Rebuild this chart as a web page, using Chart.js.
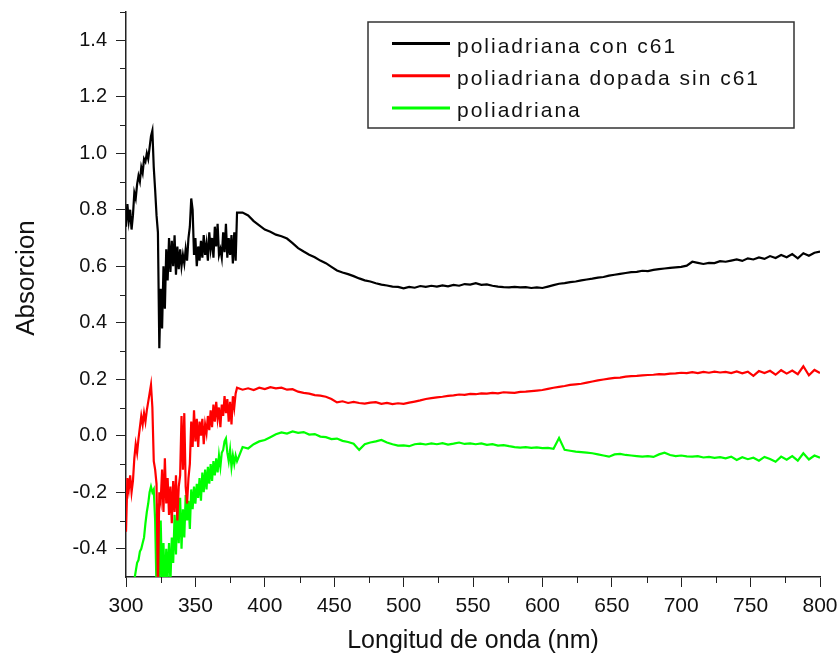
<!DOCTYPE html>
<html lang="es">
<head>
<meta charset="utf-8">
<title>Absorcion</title>
<script src="https://cdn.jsdelivr.net/npm/chart.js@4.4.1/dist/chart.umd.min.js"></script>
<style>
  html, body { margin: 0; padding: 0; background: #fff; }
  #contenedor { width: 840px; height: 656px; }
</style>
</head>
<body>
<div id="contenedor"><canvas id="grafico"></canvas></div>
<script>
// Longitudes de onda (nm): cada 1 nm hasta 380, luego cada 4 nm
var longitudOnda = [
  300, 301, 302, 303, 304, 305, 306, 307, 308, 309,
  310, 311, 312, 313, 314, 315, 316, 317, 318, 319,
  320, 321, 322, 323, 324, 325, 326, 327, 328, 329,
  330, 331, 332, 333, 334, 335, 336, 337, 338, 339,
  340, 341, 342, 343, 344, 345, 346, 347, 348, 349,
  350, 351, 352, 353, 354, 355, 356, 357, 358, 359,
  360, 361, 362, 363, 364, 365, 366, 367, 368, 369,
  370, 371, 372, 373, 374, 375, 376, 377, 378, 379,
  380,
  384, 388, 392, 396, 400, 404, 408, 412, 416, 420,
  424, 428, 432, 436, 440, 444, 448, 452, 456, 460,
  464, 468, 472, 476, 480, 484, 488, 492, 496, 500,
  504, 508, 512, 516, 520, 524, 528, 532, 536, 540,
  544, 548, 552, 556, 560, 564, 568, 572, 576, 580,
  584, 588, 592, 596, 600, 604, 608, 612, 616, 620,
  624, 628, 632, 636, 640, 644, 648, 652, 656, 660,
  664, 668, 672, 676, 680, 684, 688, 692, 696, 700,
  704, 708, 712, 716, 720, 724, 728, 732, 736, 740,
  744, 748, 752, 756, 760, 764, 768, 772, 776, 780,
  784, 788, 792, 796, 800
];

// poliadriana con c61
var absConC61 = [
  0.74, 0.82, 0.76, 0.80, 0.73, 0.78, 0.86, 0.84, 0.89, 0.92,
  0.90, 0.95, 0.93, 0.98, 0.97, 1.00, 0.98, 1.02, 1.06, 1.08,
  0.95, 0.87, 0.78, 0.72, 0.31, 0.52, 0.38, 0.60, 0.45, 0.66,
  0.55, 0.70, 0.58, 0.69, 0.60, 0.71, 0.57, 0.67, 0.59, 0.66,
  0.60, 0.64, 0.61, 0.66, 0.62, 0.70, 0.74, 0.84, 0.80, 0.64,
  0.70, 0.60, 0.67, 0.62, 0.69, 0.63, 0.71, 0.64, 0.68, 0.62,
  0.72, 0.66, 0.70, 0.63, 0.74, 0.67, 0.75, 0.64, 0.66, 0.63,
  0.72, 0.65, 0.75, 0.63, 0.70, 0.64, 0.71, 0.61, 0.72, 0.62,
  0.79,
  0.79, 0.78, 0.76, 0.745, 0.73, 0.722, 0.712, 0.706, 0.698, 0.682,
  0.664, 0.652, 0.641, 0.632, 0.62, 0.611, 0.598, 0.585, 0.578, 0.572,
  0.565, 0.557, 0.550, 0.546, 0.540, 0.535, 0.532, 0.528, 0.527, 0.522,
  0.527, 0.524, 0.530, 0.527, 0.531, 0.528, 0.532, 0.529, 0.534, 0.531,
  0.537, 0.535, 0.540, 0.534, 0.536, 0.531, 0.528, 0.526, 0.525, 0.527,
  0.525, 0.526, 0.523, 0.525, 0.523, 0.528, 0.533, 0.538, 0.540, 0.544,
  0.546, 0.550, 0.553, 0.556, 0.560, 0.562, 0.567, 0.570, 0.573, 0.576,
  0.579, 0.580, 0.584, 0.583, 0.587, 0.590, 0.592, 0.594, 0.596, 0.598,
  0.602, 0.616, 0.612, 0.608, 0.612, 0.611, 0.618, 0.616, 0.620, 0.624,
  0.619, 0.628, 0.624, 0.631, 0.626, 0.636, 0.629, 0.640, 0.632, 0.643,
  0.628, 0.646, 0.637, 0.648, 0.652
];

// poliadriana dopada sin c61
var absDopadaSinC61 = [
  -0.34, -0.15, -0.19, -0.14, -0.20, -0.16, -0.08, -0.03, -0.06, -0.01,
  0.03, 0.07, 0.04, 0.08, 0.05, 0.09, 0.12, 0.15, 0.18, 0.10,
  -0.09, -0.12, -0.17, -0.55, -0.20, -0.23, -0.12, -0.27, -0.08, -0.24,
  -0.15, -0.28, -0.18, -0.31, -0.16, -0.27, -0.14, -0.30, -0.18, -0.14,
  0.07, -0.12, 0.08, -0.18, -0.24, -0.15, -0.10, 0.05, -0.04, 0.09,
  -0.02, 0.06, -0.04, 0.05, 0.00, 0.06, -0.03, 0.04, 0.01, 0.07,
  0.02, 0.09, 0.03, 0.11, 0.05, 0.12, 0.06, 0.10, 0.03, 0.11,
  0.07, 0.14, 0.08, 0.13, 0.05, 0.12, 0.04, 0.14, 0.10, 0.15,
  0.17,
  0.163, 0.168, 0.162, 0.170, 0.165, 0.172, 0.168, 0.170, 0.163, 0.165,
  0.156, 0.152, 0.149, 0.144, 0.142, 0.138, 0.130, 0.118, 0.122, 0.116,
  0.120, 0.116, 0.114, 0.117, 0.119, 0.113, 0.116, 0.112, 0.115, 0.113,
  0.117, 0.121, 0.125, 0.130, 0.133, 0.136, 0.138, 0.141, 0.143, 0.146,
  0.145, 0.148, 0.147, 0.150, 0.149, 0.152, 0.150, 0.154, 0.153, 0.152,
  0.155, 0.156, 0.158, 0.160, 0.162, 0.166, 0.170, 0.173, 0.176, 0.180,
  0.182, 0.184, 0.188, 0.192, 0.196, 0.199, 0.202, 0.205, 0.206, 0.209,
  0.211, 0.212, 0.214, 0.215, 0.216, 0.218, 0.217, 0.220, 0.221, 0.223,
  0.222, 0.225, 0.222, 0.226, 0.223, 0.227, 0.224, 0.226, 0.222, 0.228,
  0.221, 0.227, 0.212, 0.229, 0.222, 0.230, 0.216, 0.232, 0.220, 0.231,
  0.218, 0.246, 0.214, 0.233, 0.222
];

// poliadriana
var absPoliadriana = [
  -0.80, -0.76, -0.72, -0.68, -0.63, -0.57, -0.51, -0.48, -0.45, -0.44,
  -0.41, -0.40, -0.38, -0.36, -0.31, -0.27, -0.24, -0.20, -0.18, -0.20,
  -0.19, -0.30, -0.55, -0.24, -0.56, -0.30, -0.52, -0.38, -0.55, -0.40,
  -0.50, -0.38, -0.52, -0.36, -0.45, -0.28, -0.42, -0.25, -0.38, -0.22,
  -0.40, -0.26, -0.36, -0.21, -0.30, -0.23, -0.33, -0.19, -0.26, -0.18,
  -0.24, -0.17, -0.22, -0.15, -0.23, -0.13, -0.20, -0.12, -0.19, -0.11,
  -0.17, -0.10, -0.16, -0.09, -0.14, -0.08, -0.13, -0.07, -0.11, -0.06,
  -0.05, -0.02, -0.01, -0.06, -0.09, -0.05, -0.11, -0.07, -0.10, -0.07,
  -0.09,
  -0.040, -0.045, -0.030, -0.020, -0.015, -0.005, 0.005, 0.012, 0.008, 0.015,
  0.010, 0.013, 0.004, 0.006, -0.003, -0.005, -0.012, -0.010, -0.018, -0.022,
  -0.028, -0.050, -0.030, -0.024, -0.020, -0.015, -0.024, -0.030, -0.035, -0.034,
  -0.037, -0.030, -0.028, -0.031, -0.027, -0.030, -0.026, -0.031, -0.028, -0.024,
  -0.029, -0.027, -0.030, -0.027, -0.032, -0.030, -0.035, -0.033, -0.037, -0.040,
  -0.042, -0.040, -0.043, -0.041, -0.044, -0.043, -0.046, -0.008, -0.050, -0.053,
  -0.056, -0.058, -0.060, -0.062, -0.066, -0.070, -0.074, -0.066, -0.064, -0.068,
  -0.070, -0.072, -0.074, -0.072, -0.075, -0.066, -0.060, -0.068, -0.072, -0.070,
  -0.073, -0.074, -0.072, -0.077, -0.075, -0.078, -0.076, -0.080, -0.074, -0.086,
  -0.076, -0.083, -0.078, -0.088, -0.075, -0.082, -0.092, -0.074, -0.085, -0.072,
  -0.088, -0.062, -0.084, -0.070, -0.078
];

var nombresSeries = ["poliadriana con c61", "poliadriana dopada sin c61", "poliadriana"];
var coloresSeries = ["#000000", "#ff0000", "#00ff00"];

// Marcas de los ejes
var ticksX = [300, 350, 400, 450, 500, 550, 600, 650, 700, 750, 800];
var ticksXMenores = [325, 375, 425, 475, 525, 575, 625, 675, 725, 775];
var ticksY = [-0.4, -0.2, 0, 0.2, 0.4, 0.6, 0.8, 1.0, 1.2, 1.4];
var ticksYMenores = [-0.3, -0.1, 0.1, 0.3, 0.5, 0.7, 0.9, 1.1, 1.3, 1.5];

var fuente = "'Liberation Sans', Arial, sans-serif";
var colorEjes = "#222222";

function puntos(valores) {
  return longitudOnda.map(function (x, i) {
    return { x: x, y: valores[i] };
  });
}

// Marcas menores, título vertical y leyenda con recuadro
var extrasGrafico = {
  id: "extrasGrafico",
  afterDraw: function (chart) {
    var ctx = chart.ctx;
    var area = chart.chartArea;
    var ejeX = chart.scales.x;
    var ejeY = chart.scales.y;

    ctx.save();
    ctx.strokeStyle = colorEjes;
    ctx.lineWidth = 1;
    ctx.beginPath();
    ticksXMenores.forEach(function (v) {
      var px = Math.round(ejeX.getPixelForValue(v)) + 0.5;
      ctx.moveTo(px, area.bottom);
      ctx.lineTo(px, area.bottom + 6);
    });
    ticksYMenores.forEach(function (v) {
      var py = Math.round(ejeY.getPixelForValue(v)) + 0.5;
      ctx.moveTo(area.left - 6, py);
      ctx.lineTo(area.left, py);
    });
    ctx.stroke();

    // título del eje Y
    ctx.save();
    ctx.translate(34, 278);
    ctx.rotate(-Math.PI / 2);
    ctx.font = "26px " + fuente;
    ctx.fillStyle = "#111";
    ctx.textAlign = "center";
    ctx.textBaseline = "alphabetic";
    ctx.fillText("Absorcion", 0, 0);
    ctx.restore();

    // leyenda
    var x0 = 368, y0 = 22, ancho = 426, alto = 106;
    ctx.strokeStyle = "#333";
    ctx.lineWidth = 1.5;
    ctx.strokeRect(x0, y0, ancho, alto);
    ctx.font = "21px " + fuente;
    ctx.letterSpacing = "2px";
    ctx.textAlign = "left";
    ctx.textBaseline = "alphabetic";
    chart.data.datasets.forEach(function (ds, i) {
      var y = y0 + 21.5 + i * 32.2;
      ctx.strokeStyle = ds.borderColor;
      ctx.lineWidth = 3;
      ctx.beginPath();
      ctx.moveTo(x0 + 24, y);
      ctx.lineTo(x0 + 82, y);
      ctx.stroke();
      ctx.fillStyle = "#111";
      ctx.fillText(ds.label, x0 + 89, y + 9);
    });
    ctx.restore();
  }
};

var datasets = [absConC61, absDopadaSinC61, absPoliadriana].map(function (valores, i) {
  return {
    label: nombresSeries[i],
    data: puntos(valores),
    borderColor: coloresSeries[i],
    backgroundColor: coloresSeries[i],
    borderWidth: 2.2,
    pointRadius: 0,
    tension: 0,
    fill: false,
    clip: 0
  };
});

var ctx = document.getElementById("grafico").getContext("2d");
var grafico = new Chart(ctx, {
  type: "line",
  data: { datasets: datasets },
  options: {
    responsive: true,
    maintainAspectRatio: false,
    animation: false,
    layout: { padding: { top: 12, right: 20, left: 0, bottom: 0 } },
    plugins: {
      legend: { display: false },
      tooltip: { enabled: false }
    },
    scales: {
      x: {
        type: "linear",
        min: 300,
        max: 800,
        afterBuildTicks: function (scale) {
          scale.ticks = ticksX.map(function (v) { return { value: v }; });
        },
        afterFit: function (scale) {
          scale.height = 79;
          scale.paddingLeft = 0;
          scale.paddingRight = 0;
        },
        grid: { drawOnChartArea: false, drawTicks: true, tickLength: 10, tickColor: colorEjes, tickWidth: 1 },
        border: { display: true, color: colorEjes, width: 1.5 },
        ticks: {
          autoSkip: false,
          maxRotation: 0,
          padding: 7,
          color: "#111",
          font: { family: fuente, size: 21 },
          callback: function (v) { return String(v); }
        },
        title: {
          display: true,
          text: "Longitud de onda (nm)",
          color: "#111",
          padding: 0,
          font: { family: fuente, size: 25 }
        }
      },
      y: {
        type: "linear",
        min: -0.5,
        max: 1.5,
        afterBuildTicks: function (scale) {
          scale.ticks = ticksY.map(function (v) { return { value: v }; });
        },
        afterFit: function (scale) {
          scale.width = 126;
          scale.paddingTop = 0;
          scale.paddingBottom = 0;
        },
        grid: { drawOnChartArea: false, drawTicks: true, tickLength: 10, tickColor: colorEjes, tickWidth: 1 },
        border: { display: true, color: colorEjes, width: 1.5 },
        ticks: {
          padding: 9,
          color: "#111",
          font: { family: fuente, size: 20 },
          callback: function (v) { return v.toFixed(1); }
        }
      }
    }
  },
  plugins: [extrasGrafico]
});
</script>
</body>
</html>
